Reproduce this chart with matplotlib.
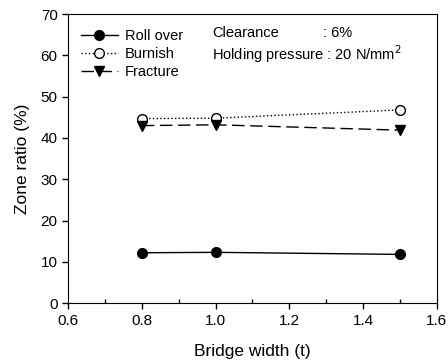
import matplotlib
matplotlib.use("Agg")
import matplotlib.pyplot as plt
from matplotlib.ticker import MultipleLocator

plt.rcParams['font.family'] = ['Liberation Sans', 'DejaVu Sans']

bridge_width = [0.8, 1.0, 1.5]
roll_over = [12.2, 12.3, 11.8]
burnish = [44.7, 44.8, 46.8]
fracture = [43.0, 43.2, 41.9]

fig = plt.figure(figsize=(4.48, 3.63), dpi=100)
ax = fig.add_axes([0.152, 0.165, 0.823, 0.796])

ax.plot(bridge_width, roll_over, '-', color='black', marker='o', ms=7, lw=1.0, label='Roll over')
ax.plot(bridge_width, burnish, ':', color='black', marker='o', ms=7, mfc='white', lw=1.0, label='Burnish')
ax.plot(bridge_width, fracture, color='black', marker='v', ms=7, lw=1.0, dashes=(9, 4), label='Fracture')

ax.set_xlim(0.6, 1.6)
ax.set_ylim(0, 70)
ax.set_xticks([0.6, 0.8, 1.0, 1.2, 1.4, 1.6])
ax.set_xticklabels(['0.6', '0.8', '1.0', '1.2', '1.4', '1.6'])
ax.xaxis.set_minor_locator(MultipleLocator(0.1))
ax.yaxis.set_major_locator(MultipleLocator(10))
ax.tick_params(axis='both', which='major', direction='out', labelsize=11, length=4, width=1)
ax.tick_params(axis='x', which='minor', direction='in', length=3, width=1)
ax.set_xlabel('Bridge width (t)', fontsize=12.5, labelpad=12)
ax.set_ylabel('Zone ratio (%)', fontsize=12.5, labelpad=8)

ax.legend(loc='upper left', frameon=False, fontsize=10.5, handlelength=2.5,
          handletextpad=0.5, labelspacing=0.3, borderaxespad=0.5, bbox_to_anchor=(0.0, 0.995))

ax.text(0.39, 0.934, 'Clearance', transform=ax.transAxes, fontsize=10.5, va='center')
ax.text(0.69, 0.934, ': 6%', transform=ax.transAxes, fontsize=10.5, va='center')
ax.text(0.39, 0.862, 'Holding pressure : 20 N/mm$^2$', transform=ax.transAxes, fontsize=10.5, va='center')

fig.savefig('out.png', dpi=100)
